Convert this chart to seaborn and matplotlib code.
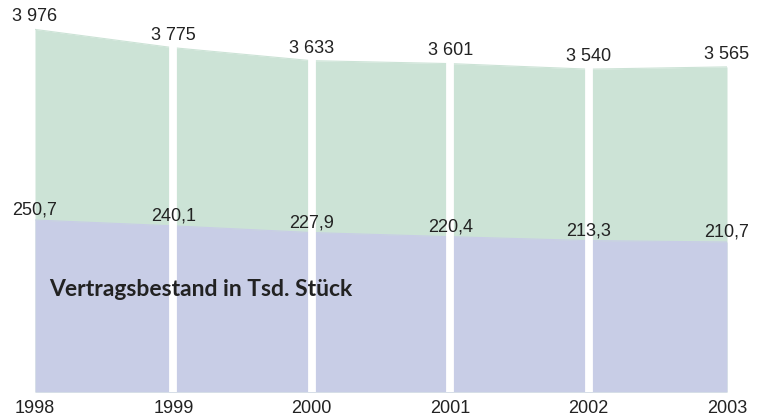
import matplotlib
matplotlib.use("Agg")
import matplotlib.pyplot as plt
import seaborn as sns
import pandas as pd

years = [1998, 1999, 2000, 2001, 2002, 2003]
total_values = [3976, 3775, 3633, 3601, 3540, 3565]
total_labels = ["3 976", "3 775", "3 633", "3 601", "3 540", "3 565"]
contract_values = [250.7, 240.1, 227.9, 220.4, 213.3, 210.7]
contract_labels = ["250,7", "240,1", "227,9", "220,4", "213,3", "210,7"]
title_text = "Vertragsbestand in Tsd. Stück"

green = "#cce3d6"
purple = "#c8cde6"

sns.set_theme(style="white")
plt.rcParams['font.family'] = ['Liberation Sans', 'DejaVu Sans']

df = pd.DataFrame({"year": years, "total": total_values, "contracts": contract_values})

W, H = 763, 419
fig = plt.figure(figsize=(W / 100, H / 100), dpi=100)
left, right, base, top = 35, 727, 392, 20
ax = fig.add_axes([left / W, (H - base) / H, (right - left) / W, (base - top) / H])
ax2 = ax.twinx()

ax.set_xlim(1998, 2003)
ax.set_ylim(0, (base - top) / 0.0912)
lo = -62
ax2.set_ylim(lo, lo + (base - top) / 0.55)

ax.fill_between(df["year"], 0, df["total"], color=green, lw=0)
sns.lineplot(data=df, x="year", y="total", ax=ax, color=green, lw=0.8)
ax2.fill_between(df["year"], lo, df["contracts"], color=purple, lw=0)
sns.lineplot(data=df, x="year", y="contracts", ax=ax2, color=purple, lw=0.8)

for y in years[1:-1]:
    ax2.axvline(y, color="white", lw=5.6, zorder=5)

for y, v, lab in zip(years, total_values, total_labels):
    ax2.annotate(lab, (y, v), xycoords=ax.transData, xytext=(0, 3),
                 textcoords="offset points", ha="center", va="bottom",
                 fontsize=13, color="#222222", zorder=10, annotation_clip=False)
for y, v, lab in zip(years, contract_values, contract_labels):
    ax2.annotate(lab, (y, v), xytext=(0, 1), textcoords="offset points",
                 ha="center", va="bottom", fontsize=13, color="#222222",
                 zorder=10, annotation_clip=False)

ax2.text((49 - left) / (right - left), (base - 289) / (base - top), title_text,
         transform=ax2.transAxes, ha="left", va="center", fontsize=16.5,
         fontweight="bold", color="#222222",
         family=['Lato', 'Liberation Sans', 'DejaVu Sans'], zorder=10)

for a in (ax, ax2):
    for s in a.spines.values():
        s.set_visible(False)
    a.set_ylabel("")
    a.set_xlabel("")
    a.set_yticks([])
ax.set_xticks(years)
ax.set_xticklabels([str(y) for y in years], fontsize=13, color="#222222")
ax.tick_params(axis="x", length=0, pad=6)

fig.savefig("out.png", dpi=100)
